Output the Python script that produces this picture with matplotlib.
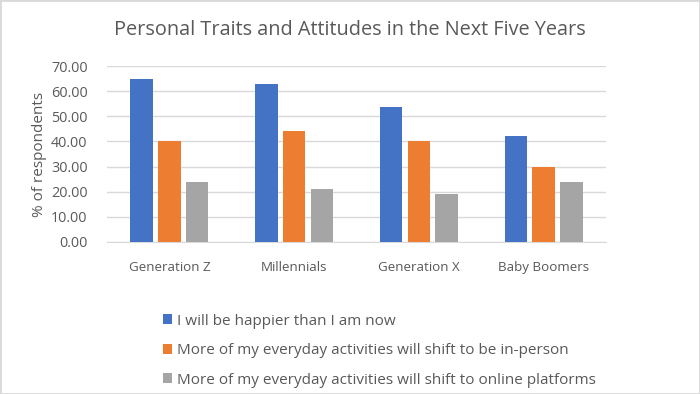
import matplotlib
matplotlib.use("Agg")
import matplotlib.pyplot as plt
from matplotlib.patches import Rectangle
import numpy as np

categories = ["Generation Z", "Millennials", "Generation X", "Baby Boomers"]
series_names = [
    "I will be happier than I am now",
    "More of my everyday activities will shift to be in-person",
    "More of my everyday activities will shift to online platforms",
]
happier = [65.0, 63.0, 53.5, 42.0]
in_person = [40.0, 44.0, 40.0, 30.0]
online = [24.0, 21.0, 19.0, 24.0]
yticks = [0, 10, 20, 30, 40, 50, 60, 70]

colors = ["#4472C4", "#ED7D31", "#A5A5A5"]
text_color = "#595959"

plt.rcParams['font.family'] = ['Open Sans', 'DejaVu Sans']

fig = plt.figure(figsize=(7.0, 3.94), dpi=100)
ax = fig.add_axes([107/700, 1-242/394, 499/700, 176/394])

x = np.arange(len(categories))
w = 0.181
step = 0.222
for i, (vals, c) in enumerate(zip([happier, in_person, online], colors)):
    ax.bar(x + (i - 1) * step, vals, width=w, color=c, label=series_names[i], zorder=3)

ax.set_xlim(-0.5, len(categories) - 0.5)
ax.set_ylim(0, 70)
ax.set_yticks(yticks)
ax.set_yticklabels([f"{v:.2f}" for v in yticks])
ax.set_xticks(x)
ax.set_xticklabels(categories)
ax.tick_params(axis='both', length=0, colors=text_color)
ax.tick_params(axis='x', pad=14, labelsize=9.6)
ax.tick_params(axis='y', pad=14, labelsize=10.4)
ax.grid(axis='y', color='#D9D9D9', linewidth=1, zorder=0)
for s in ['top', 'right', 'left']:
    ax.spines[s].set_visible(False)
ax.spines['bottom'].set_color('#D9D9D9')
ax.set_ylabel("% of respondents", color=text_color, fontsize=11, labelpad=3)

fig.text(0.5, 1 - 30/394, "Personal Traits and Attitudes in the Next Five Years",
         ha='center', va='center', fontsize=14.3, color=text_color)

handles, labels = ax.get_legend_handles_labels()
leg = fig.legend(handles, labels, loc='upper left', bbox_to_anchor=(155/700, 1 - 306/394),
                 frameon=False, fontsize=11, labelcolor=text_color, handlelength=0.6,
                 handleheight=0.6, handletextpad=0.35, labelspacing=0.95, borderpad=0)

fig.patches.append(Rectangle((0, 0), 1, 1, transform=fig.transFigure, fill=False,
                             edgecolor='#D9D9D9', linewidth=2))

fig.savefig("out.png", dpi=100)
